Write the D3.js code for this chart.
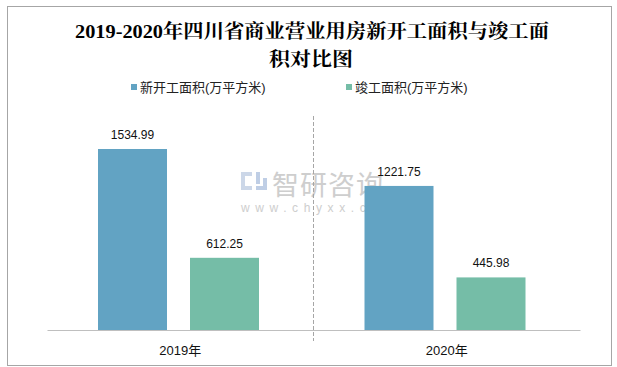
<!DOCTYPE html>
<html><head><meta charset="utf-8">
<script src="https://cdn.jsdelivr.net/npm/d3@7"></script>
<style>body{margin:0;background:#fff}svg{display:block}</style>
</head><body>
<script>
const categories = ["2019年", "2020年"];
const seriesNames = ["新开工面积(万平方米)", "竣工面积(万平方米)"];
const newStarts = [1534.99, 1221.75];
const completed = [612.25, 445.98];
const colors = ["#62a3c3", "#75bda7"];

const W = 617, H = 367;
const svg = d3.select("body").append("svg").attr("width", W).attr("height", H);
svg.append("rect").attr("x", 7.5).attr("y", 6.5).attr("width", 604).attr("height", 359)
  .attr("fill", "#fff").attr("stroke", "#a6a6a6");

const titleFont = "'Liberation Serif','DejaVu Serif','Noto Serif CJK SC','Noto Sans CJK SC',serif";
const sans = "'Liberation Sans','Noto Sans CJK SC',sans-serif";
svg.append("text").attr("x", 312).attr("y", 38).attr("text-anchor", "middle")
  .attr("font-family", titleFont).attr("font-weight", "bold").attr("font-size", 19)
  .attr("textLength", 474).attr("lengthAdjust", "spacingAndGlyphs")
  .text("2019-2020年四川省商业营业用房新开工面积与竣工面");
svg.append("text").attr("x", 311).attr("y", 66).attr("text-anchor", "middle")
  .attr("font-family", titleFont).attr("font-weight", "bold").attr("font-size", 19)
  .attr("textLength", 84).attr("lengthAdjust", "spacingAndGlyphs")
  .text("积对比图");

// legend
const legX = [131, 346];
seriesNames.forEach((n, i) => {
  svg.append("rect").attr("x", legX[i]).attr("y", 84).attr("width", 6).attr("height", 6).attr("fill", colors[i]);
  svg.append("text").attr("x", legX[i] + 9).attr("y", 92).attr("font-family", sans).attr("font-size", 13)
    .attr("fill", "#222").text(n);
});

const x0 = d3.scaleBand().domain(categories).range([47, 580]);
const x1 = d3.scaleBand().domain([0, 1]).range([51, 212]).paddingInner(0.25);
const y = d3.scaleLinear().domain([0, 1534.99]).range([330, 149]);

// watermark
const wm = svg.append("g").attr("opacity", 0.9);
wm.append("rect").attr("x", 241).attr("y", 172).attr("width", 11).attr("height", 4).attr("fill", "#c7d3e6");
wm.append("rect").attr("x", 241).attr("y", 172).attr("width", 4).attr("height", 18).attr("fill", "#c7d3e6");
wm.append("rect").attr("x", 241).attr("y", 186).attr("width", 11).attr("height", 4).attr("fill", "#c7d3e6");
wm.append("rect").attr("x", 256).attr("y", 172).attr("width", 4).attr("height", 12).attr("fill", "#b9c9e3");
wm.append("rect").attr("x", 256).attr("y", 186).attr("width", 11).attr("height", 4).attr("fill", "#b9c9e3");
wm.append("rect").attr("x", 263).attr("y", 178).attr("width", 4).attr("height", 12).attr("fill", "#b9c9e3");
wm.append("text").attr("x", 272).attr("y", 195).attr("font-family", "'Noto Sans CJK SC',sans-serif")
  .attr("font-size", 27).attr("fill", "#c9c9c9").attr("letter-spacing", 1).text("智研咨询");
wm.append("text").attr("x", 241).attr("y", 212).attr("font-family", sans)
  .attr("font-size", 12).attr("fill", "#c9c9c9").attr("letter-spacing", 5.6).text("www.chyxx.com");

// divider
svg.append("line").attr("x1", 313.5).attr("x2", 313.5).attr("y1", 116).attr("y2", 341)
  .attr("stroke", "#a6a6a6").attr("stroke-dasharray", "4,2");

const data = categories.map((c, i) => ({ c, vals: [newStarts[i], completed[i]] }));
const g = svg.selectAll("g.grp").data(data).join("g").attr("class", "grp")
  .attr("transform", d => `translate(${x0(d.c)},0)`);
g.selectAll("rect").data(d => d.vals).join("rect")
  .attr("x", (v, i) => x1(i)).attr("width", x1.bandwidth())
  .attr("y", v => y(v)).attr("height", v => 330 - y(v)).attr("fill", (v, i) => colors[i]);
g.selectAll("text").data(d => d.vals).join("text")
  .attr("x", (v, i) => x1(i) + x1.bandwidth() / 2).attr("y", v => y(v) - 10)
  .attr("text-anchor", "middle").attr("font-family", sans).attr("font-size", 12).attr("fill", "#111")
  .text(v => v.toFixed(2));

// axis
const ax = svg.append("g").attr("transform", "translate(0,330)").call(d3.axisBottom(x0).tickSize(0).tickPadding(16));
ax.select(".domain").attr("stroke", "#bfbfbf");
ax.selectAll("text").attr("font-family", sans).attr("font-size", 13).attr("fill", "#111");
</script>
</body></html>
